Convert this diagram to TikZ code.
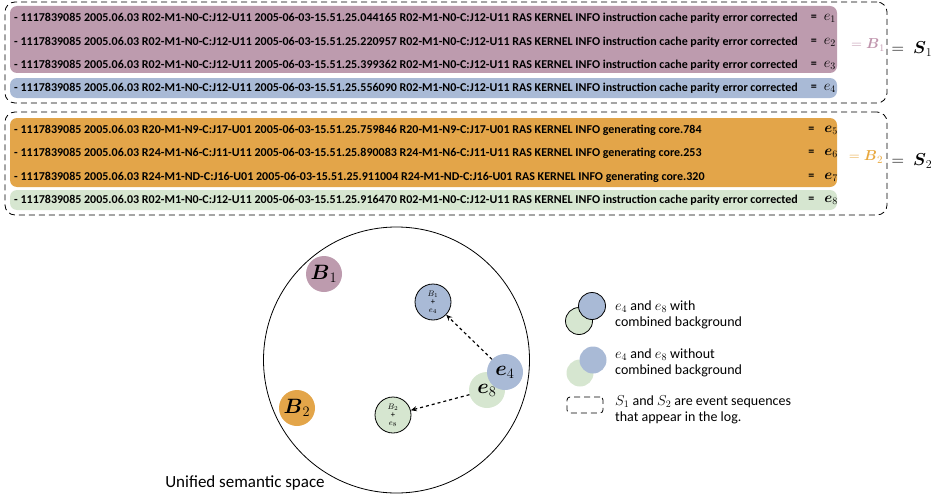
\documentclass[tikz,border=0pt]{standalone}
\usepackage{amsmath}
\usepackage{amssymb}
\usepackage{fontspec}
\setmainfont{Carlito}
\usetikzlibrary{arrows.meta}

\definecolor{bpurple}{HTML}{BD9BAE}
\definecolor{bblue}{HTML}{A9BAD6}
\definecolor{borange}{HTML}{E3A549}
\definecolor{bgreen}{HTML}{D6E6D0}
\definecolor{lpurple}{HTML}{BF94AC}
\definecolor{lorange}{HTML}{E8A83F}

\begin{document}
\begin{tikzpicture}[x=1pt,y=-1pt,
    logline/.style={anchor=west, inner sep=0pt, font=\fontsize{12}{14}\selectfont\bfseries},
    logeq/.style={anchor=east, inner sep=0pt, font=\fontsize{14}{15}\selectfont\bfseries},
    rowbox/.style={rounded corners=7pt, minimum width=827pt, inner sep=0pt},
    seqbox/.style={draw, dash pattern=on 6pt off 4pt, thick, rounded corners=10pt, minimum width=882pt, inner sep=0pt},
    blob/.style={circle, minimum size=36pt, inner sep=0pt, font=\fontsize{20}{21}\selectfont},
    mixed/.style={circle, draw, thick, minimum size=36pt, inner sep=0pt, align=center,
      font=\fontsize{8.5}{8}\selectfont},
    legdot/.style={circle, minimum size=27pt, inner sep=0pt},
    legtext/.style={anchor=west, align=left, inner sep=0pt, font=\fontsize{14}{16}\selectfont},
    move/.style={-{Stealth[length=6pt,width=5pt]}, dashed, very thick}]
  \useasboundingbox (0,0) rectangle (934,495);

  % S1: log rows
  \node[seqbox, minimum height=101pt] (s1) at (446,52.5) {};
  \node[rowbox, fill=bpurple, minimum height=67pt] (b1row) at (423.5,39.5) {};
  \node[rowbox, fill=bblue, minimum height=20pt] (e4row) at (423.5,88) {};
  \foreach \y/\ts/\i in {18/044165/1, 42/220957/2, 65/399362/3, 88/556090/4} {
      \node[logline] (l\i) at (14,\y) {- 1117839085 2005.06.03 R02-M1-N0-C:J12-U11 2005-06-03-15.51.25.\ts{} R02-M1-N0-C:J12-U11 RAS KERNEL INFO instruction cache parity error corrected};
      \node[logeq] (q\i) at (836,\y) {{\fontsize{12}{14}\selectfont=}\hspace{7pt}$e_{\i}$};
    }
  \node[lpurple, font=\fontsize{14}{15}\selectfont] (eqb1) at (868,45) {$= \boldsymbol{B}_1$};
  \node[font=\fontsize{18}{19}\selectfont] (eqs1) at (912,49) {$=\ \boldsymbol{S}_1$};

  % S2: log rows
  \node[seqbox, minimum height=103pt] (s2) at (446,163.5) {};
  \node[rowbox, fill=borange, minimum height=69pt] (b2row) at (423.5,152.5) {};
  \node[rowbox, fill=bgreen, minimum height=20pt] (e8row) at (423.5,200) {};
  \foreach \y/\rack/\ts/\core/\i in {130/R20-M1-N9-C:J17-U01/759846/784/5, 153/R24-M1-N6-C:J11-U11/890083/253/6, 177/R24-M1-ND-C:J16-U01/911004/320/7} {
      \node[logline] (l\i) at (14,\y) {- 1117839085 2005.06.03 \rack{} 2005-06-03-15.51.25.\ts{} \rack{} RAS KERNEL INFO generating core.\core};
      \node[logeq] (q\i) at (838,\y) {{\fontsize{12}{14}\selectfont=}\hspace{10pt}$\boldsymbol{e}_{\i}$};
    }
  \node[logline] (l8) at (14,200) {- 1117839085 2005.06.03 R02-M1-N0-C:J12-U11 2005-06-03-15.51.25.916470 R02-M1-N0-C:J12-U11 RAS KERNEL INFO instruction cache parity error corrected};
  \node[logeq] (q8) at (838,200) {{\fontsize{12}{14}\selectfont=}\hspace{10pt}$\boldsymbol{e}_{8}$};
  \node[lorange, font=\fontsize{15}{16}\selectfont] (eqb2) at (866,157) {$= \boldsymbol{B}_2$};
  \node[font=\fontsize{18}{19}\selectfont] (eqs2) at (912,161) {$=\ \boldsymbol{S}_2$};

  % semantic space
  \node[circle, draw, thick, minimum size=266pt, inner sep=0pt] (space) at (396.5,360) {};
  \node[font=\fontsize{17}{19}\selectfont] (spacelbl) at (245,483) {Unified semantic space};

  \node[blob, fill=bpurple] (nb1) at (324,274) {$\boldsymbol{B}_1$};
  \node[blob, fill=borange] (nb2) at (297,408) {$\boldsymbol{B}_2$};
  \node[mixed, fill=bblue] (mix1) at (433,302) {$B_1$\\+\\$e_4$};
  \node[mixed, fill=bgreen] (mix2) at (393,415) {$B_2$\\+\\$e_8$};
  \node[blob, fill=bgreen] (ne8) at (487,390) {$\boldsymbol{e}_8$};
  \node[blob, fill=bblue] (ne4) at (505,372) {$\boldsymbol{e}_4$};

  \draw[move] (ne4) -- (mix1);
  \draw[move] (ne8) -- (mix2);

  % legend
  \node[legdot, draw, thick, fill=bgreen] (lg1a) at (579,321) {};
  \node[legdot, draw, thick, fill=bblue] (lg1b) at (592,306) {};
  \node[legtext] (lt1) at (615,315) {$e_4$ and $e_8$ with\\combined background};
  \node[legdot, fill=bgreen] (lg2a) at (580,373) {};
  \node[legdot, fill=bblue] (lg2b) at (593,360) {};
  \node[legtext] (lt2) at (615,363) {$e_4$ and $e_8$ without\\combined background};
  \node[draw, dash pattern=on 6pt off 4pt, thick, rounded corners=3pt, minimum width=36pt, minimum height=16pt] (lg3) at (585,405) {};
  \node[legtext] (lt3) at (615,410) {$S_1$ and $S_2$ are event sequences\\that appear in the log.};
\end{tikzpicture}
\end{document}
